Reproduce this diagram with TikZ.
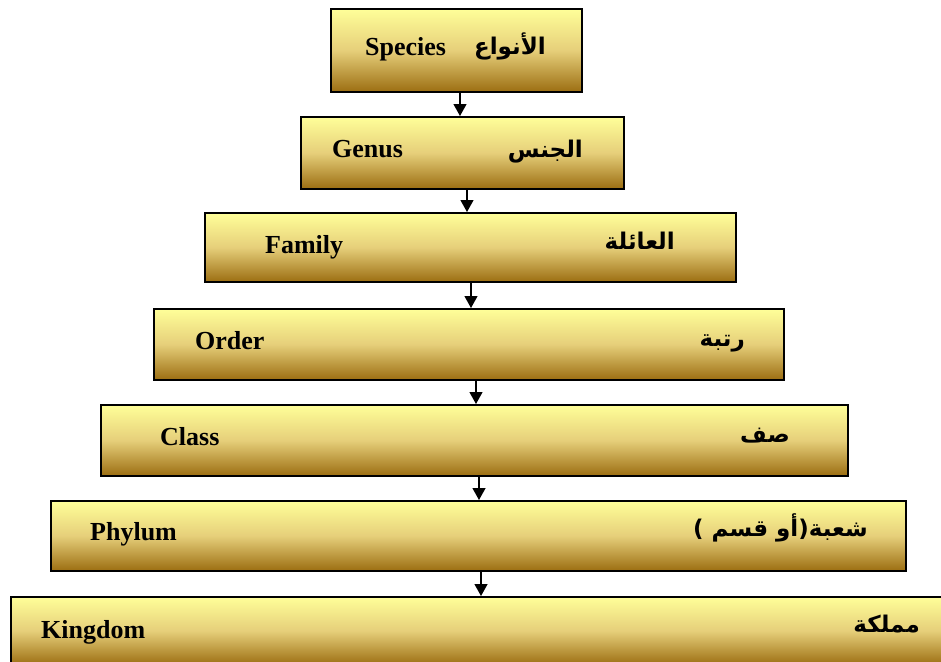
\documentclass[tikz,border=0pt]{standalone}
\usepackage{fontspec}
\setmainfont{Liberation Serif}
\newfontfamily\arfont[Script=Arabic]{DejaVu Sans}
\TeXXeTstate=1
\usetikzlibrary{arrows.meta}
\definecolor{gtop}{HTML}{FFFF99}
\definecolor{gmid}{HTML}{E6CF7A}
\definecolor{gbot}{HTML}{9C6E12}
\tikzset{
  tier/.style={draw=black, line width=1.6pt, top color=gtop, bottom color=gbot, middle color=gmid, inner sep=0pt, anchor=north west},
  entext/.style={anchor=base west, font=\fontsize{26}{30}\selectfont\bfseries, inner sep=0pt},
  artext/.style={anchor=base east, font=\fontsize{23}{27}\selectfont\arfont\bfseries, inner sep=0pt},
  arr/.style={line width=1.2pt, -{Triangle[width=13pt,length=12pt]}},
}
\begin{document}
\begin{tikzpicture}[x=1pt,y=-1pt]
\useasboundingbox (0,0) rectangle (941,661);
\clip (0,0) rectangle (941,661);
% boxes
\node[tier, minimum width=251pt, minimum height=83pt] (b1) at (330,8) {};
\node[tier, minimum width=323pt, minimum height=72pt] (b2) at (300,116) {};
\node[tier, minimum width=531pt, minimum height=69pt] (b3) at (204,212) {};
\node[tier, minimum width=630pt, minimum height=71pt] (b4) at (153,308) {};
\node[tier, minimum width=747pt, minimum height=71pt] (b5) at (100,404) {};
\node[tier, minimum width=855pt, minimum height=70pt] (b6) at (50,500) {};
\node[tier, minimum width=960pt, minimum height=68pt] (b7) at (10,596) {};
% texts
\node[entext] (e1) at (365,56) {Species};
\node[artext] (a1) at (546,55) {\beginR الأنواع\endR};
\node[entext] (e2) at (332,157) {Genus};
\node[artext] (a2) at (583,157) {\beginR الجنس\endR};
\node[entext] (e3) at (265,253) {Family};
\node[artext] (a3) at (675,249) {\beginR العائلة\endR};
\node[entext] (e4) at (195,349) {Order};
\node[artext] (a4) at (745,346) {\beginR رتبة\endR};
\node[entext] (e5) at (160,445) {Class};
\node[artext] (a5) at (790,442) {\beginR صف\endR};
\node[entext] (e6) at (90,540) {Phylum};
\node[artext] (a6) at (868,536) {\beginR شعبة(أو قسم )\endR};
\node[entext] (e7) at (41,638) {Kingdom};
\node[artext] (a7) at (920,632) {\beginR مملكة\endR};
% arrows
\coordinate (x1) at (460,0);
\coordinate (x2) at (467,0);
\coordinate (x3) at (471,0);
\coordinate (x4) at (476,0);
\coordinate (x5) at (479,0);
\coordinate (x6) at (481,0);
\draw[arr] (b1.south -| x1) -- (b2.north -| x1);
\draw[arr] (b2.south -| x2) -- (b3.north -| x2);
\draw[arr] (b3.south -| x3) -- (b4.north -| x3);
\draw[arr] (b4.south -| x4) -- (b5.north -| x4);
\draw[arr] (b5.south -| x5) -- (b6.north -| x5);
\draw[arr] (b6.south -| x6) -- (b7.north -| x6);
\end{tikzpicture}
\end{document}
